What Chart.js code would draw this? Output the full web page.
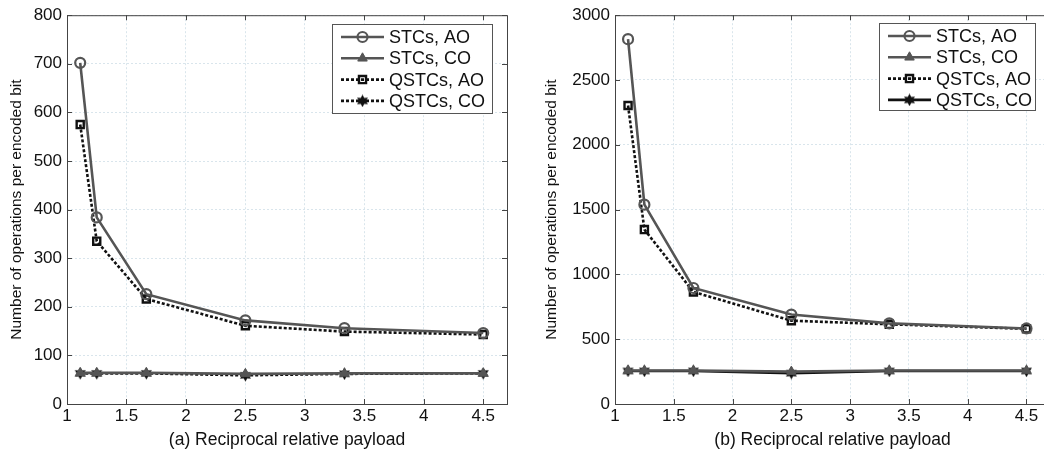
<!DOCTYPE html>
<html>
<head>
<meta charset="utf-8">
<script src="https://cdn.jsdelivr.net/npm/chart.js@4/dist/chart.umd.min.js"></script>
<style>
	html, body { margin: 0; padding: 0; background: #fff; overflow: hidden; }
	.wrap { position: absolute; top: 0; height: 451px; }
	#wrap-a { left: 0; width: 520px; }
	#wrap-b { left: 530px; width: 530px; }
</style>
</head>
<body>
<div class="wrap" id="wrap-a"><canvas id="chart-a"></canvas></div>
<div class="wrap" id="wrap-b"><canvas id="chart-b"></canvas></div>
<script>
// Reciprocal relative payload
const PAYLOAD = [1.111, 1.25, 1.667, 2.5, 3.333, 4.5];
const LABELS = ["STCs, AO", "STCs, CO", "QSTCs, AO", "QSTCs, CO"];

// (a)
const A_STC_AO = [702, 384, 226, 172, 156, 146];
const A_STC_CO = [64, 64, 64, 62, 63, 63];
const A_QSTC_AO = [575, 335, 216, 161, 149, 143];
const A_QSTC_CO = [63, 63, 63, 59, 62, 63];

// (b)
const B_STC_AO = [2815, 1538, 895, 690, 622, 583];
const B_STC_CO = [258, 258, 258, 250, 258, 258];
const B_QSTC_AO = [2303, 1346, 865, 643, 615, 580];
const B_QSTC_CO = [255, 255, 255, 238, 255, 255];

const X_TICKS = [1, 1.5, 2, 2.5, 3, 3.5, 4, 4.5];

const GREY = "#555555";
const BLACK = "#111111";
const FONT = "'Liberation Sans', Arial, sans-serif";

// filled six-pointed star marker
const hexagram = (() => {
	const c = document.createElement("canvas");
	c.width = 13; c.height = 13;
	const g = c.getContext("2d");
	g.fillStyle = BLACK;
	g.beginPath();
	for (let i = 0; i < 12; i++) {
		const r = i % 2 === 0 ? 6.3 : 3.5;
		const a = -Math.PI / 2 + i * Math.PI / 6;
		const px = 6.5 + r * Math.cos(a), py = 6.5 + r * Math.sin(a);
		i === 0 ? g.moveTo(px, py) : g.lineTo(px, py);
	}
	g.closePath();
	g.fill();
	return c;
})();

const pts = (ys) => PAYLOAD.map((x, i) => ({ x, y: ys[i] }));

const makeSets = (stcAo, stcCo, qAo, qCo, coSolid) => [
	{
		label: LABELS[0], data: pts(stcAo), borderColor: GREY, borderWidth: 2.6,
		pointStyle: "circle", pointRadius: 5, pointBorderWidth: 2.2, pointBackgroundColor: "rgba(0,0,0,0)", pointBorderColor: GREY,
	},
	{
		label: LABELS[1], data: pts(stcCo), borderColor: GREY, borderWidth: 2.6,
		pointStyle: "triangle", pointRadius: 5.5, pointBorderWidth: 1, pointBackgroundColor: GREY, pointBorderColor: GREY,
	},
	{
		label: LABELS[2], data: pts(qAo), borderColor: BLACK, borderWidth: 2.6, borderDash: [3, 2],
		pointStyle: "rect", pointRadius: 5, pointBorderWidth: 2.4, pointBackgroundColor: "rgba(0,0,0,0)", pointBorderColor: BLACK,
	},
	{
		label: LABELS[3], data: pts(qCo), borderColor: BLACK, borderWidth: 2.6, borderDash: coSolid ? [] : [3, 2],
		pointStyle: hexagram, pointRadius: 6,
	},
];

// box, inward ticks and legend drawn like the original figure
const framePlugin = {
	id: "frame",
	afterDatasetsDraw(chart, args, opts) {
		const { ctx, chartArea: a, scales } = chart;
		ctx.save();
		ctx.strokeStyle = "#444";
		ctx.lineWidth = 1;
		ctx.strokeRect(a.left + 0.5, a.top + 0.5, a.right - a.left, a.bottom - a.top);
		ctx.beginPath();
		X_TICKS.forEach((v) => {
			const px = Math.round(scales.x.getPixelForValue(v)) + 0.5;
			ctx.moveTo(px, a.bottom); ctx.lineTo(px, a.bottom - 5);
			ctx.moveTo(px, a.top); ctx.lineTo(px, a.top + 5);
		});
		scales.y.ticks.forEach((t) => {
			const py = Math.round(scales.y.getPixelForValue(t.value)) + 0.5;
			ctx.moveTo(a.left, py); ctx.lineTo(a.left + 5, py);
			ctx.moveTo(a.right, py); ctx.lineTo(a.right - 5, py);
		});
		ctx.stroke();

		// legend
		const L = opts.box;
		ctx.fillStyle = "#fff";
		ctx.fillRect(L.x, L.y, L.w, L.h);
		ctx.strokeStyle = "#555";
		ctx.strokeRect(L.x + 0.5, L.y + 0.5, L.w, L.h);
		ctx.textBaseline = "middle";
		chart.data.datasets.forEach((ds, i) => {
			const y = L.y + 13 + i * 21.3;
			const x0 = L.x + 9, x1 = L.x + 52;
			ctx.beginPath();
			ctx.setLineDash(ds.borderDash || []);
			ctx.strokeStyle = ds.borderColor;
			ctx.lineWidth = ds.borderWidth;
			ctx.moveTo(x0, y); ctx.lineTo(x1, y);
			ctx.stroke();
			ctx.setLineDash([]);
			ctx.strokeStyle = ds.pointBorderColor || ds.borderColor;
			ctx.fillStyle = ds.pointBackgroundColor || BLACK;
			ctx.lineWidth = ds.pointBorderWidth || 1;
			Chart.helpers.drawPoint(ctx, {
				pointStyle: ds.pointStyle,
				rotation: 0,
				radius: ds.pointRadius,
				borderWidth: ds.pointBorderWidth || 1,
			}, (x0 + x1) / 2, y);
			ctx.font = "18px " + FONT;
			ctx.fillStyle = "#111";
			ctx.fillText(ds.label, x1 + 5, y + 1);
		});
		ctx.restore();
	},
};

const buildConfig = (sets, yMax, yStep, yAxisWidth, padLeft, xTitle, legendBox, padRight) => ({
	type: "line",
	data: { datasets: sets },
	options: {
		responsive: true,
		maintainAspectRatio: false,
		animation: false,
		events: [],
		layout: { padding: { top: 12, right: padRight, bottom: 0, left: padLeft } },
		plugins: {
			legend: { display: false },
			tooltip: { enabled: false },
			frame: { box: legendBox },
		},
		scales: {
			x: {
				type: "linear",
				min: 1,
				max: 4.7,
				afterBuildTicks: (s) => { s.ticks = X_TICKS.map((v) => ({ value: v })); },
				afterFit: (s) => { s.height = 47; },
				grid: { color: "#d9e5ec", tickLength: 0, drawTicks: false },
				border: { display: false, dash: [2, 2] },
				ticks: { color: "#111", font: { size: 17, family: FONT }, padding: 2, maxRotation: 0, autoSkip: false, callback: (v) => String(v) },
				title: { display: true, text: xTitle, color: "#111", font: { size: 17.5, family: FONT }, padding: { top: 0, bottom: 0 } },
			},
			y: {
				min: 0,
				max: yMax,
				afterFit: (s) => { s.width = yAxisWidth; },
				grid: { color: "#d9e5ec", tickLength: 0, drawTicks: false },
				border: { display: false, dash: [2, 2] },
				ticks: { stepSize: yStep, color: "#111", font: { size: 17, family: FONT }, padding: 5, callback: (v) => String(v) },
				title: { display: true, text: "Number of operations per encoded bit", color: "#111", font: { size: 15.5, family: FONT }, padding: { top: 0, bottom: 0 } },
			},
		},
	},
});

new Chart(document.getElementById("chart-a"), {
	...buildConfig(
		makeSets(A_STC_AO, A_STC_CO, A_QSTC_AO, A_QSTC_CO, false),
		800, 100, 60, 7, "(a) Reciprocal relative payload",
		{ x: 332, y: 24, w: 160, h: 89 }, 13
	),
	plugins: [framePlugin],
});

new Chart(document.getElementById("chart-b"), {
	...buildConfig(
		makeSets(B_STC_AO, B_STC_CO, B_QSTC_AO, B_QSTC_CO, true),
		3000, 500, 73, 12, "(b) Reciprocal relative payload",
		{ x: 349, y: 23, w: 156, h: 87 }, 10
	),
	plugins: [framePlugin],
});
</script>
</body>
</html>
